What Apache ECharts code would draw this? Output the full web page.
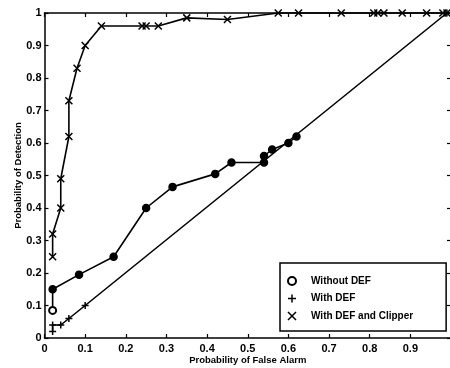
<!DOCTYPE html>
<html>
<head>
<meta charset="utf-8">
<script src="https://cdn.jsdelivr.net/npm/echarts@6/dist/echarts.min.js"></script>
<style>
  html, body { margin: 0; padding: 0; background: #fff; }
  #roc { width: 450px; height: 368px; }
</style>
</head>
<body>
<div id="roc"></div>
<script>
// ROC curves: probability of false alarm (x) vs probability of detection (y)
const noDefFA = [0.02, 0.02, 0.085, 0.17, 0.25, 0.315, 0.42, 0.46, 0.54, 0.54, 0.56, 0.60, 0.62]
const noDefPD = [0.085, 0.15, 0.195, 0.25, 0.40, 0.465, 0.505, 0.54, 0.54, 0.56, 0.58, 0.60, 0.62]

const defFA = [0.02, 0.02, 0.04, 0.06, 0.10, 0.99]
const defPD = [0.02, 0.04, 0.04, 0.06, 0.10, 1.0]

const clipFA = [0.02, 0.02, 0.04, 0.04, 0.06, 0.06, 0.08, 0.10, 0.14, 0.24, 0.25, 0.28, 0.35, 0.45,
  0.575, 0.625, 0.73, 0.81, 0.82, 0.835, 0.88, 0.94, 0.98, 0.99]
const clipPD = [0.25, 0.32, 0.40, 0.49, 0.62, 0.73, 0.83, 0.90, 0.96, 0.96, 0.96, 0.96, 0.985, 0.98,
  1, 1, 1, 1, 1, 1, 1, 1, 1, 1]

const seriesNames = ['Without DEF', 'With DEF', 'With DEF and Clipper']
const xTitle = 'Probability of False Alarm'
const yTitle = 'Probability of Detection'

const PLUS = 'path://M5,0L5,10M0,5L10,5'
const CROSS = 'path://M0,0L10,10M10,0L0,10'
const FONT = '"Liberation Sans", Arial, sans-serif'

function pairs(xs, ys) {
  return xs.map((x, i) => [x, ys[i]])
}

const tickFmt = v => (v >= 0.999 ? '1' : String(+v.toFixed(1)))

const markStyle = { color: '#000', borderColor: '#000', borderWidth: 1.5 }

const chart = echarts.init(document.getElementById('roc'), null, { renderer: 'canvas' })

// MATLAB-style box: ticks point inward on all four sides
const baseAxis = {
  type: 'value',
  min: 0,
  max: 1,
  interval: 0.1,
  axisLine: { show: true, onZero: false, lineStyle: { color: '#000', width: 1.5 } },
  axisTick: { show: true, inside: true, length: 4, lineStyle: { color: '#000', width: 1.2 } },
  splitLine: { show: false },
}

chart.setOption({
  backgroundColor: '#fff',
  animation: false,
  textStyle: { fontFamily: FONT },
  // right edge of the box sits just past the canvas, as in the cropped original
  grid: { left: 44.5, top: 13, width: 406.5, height: 325, outerBoundsMode: 'none' },
  legend: {
    orient: 'vertical',
    left: 280,
    top: 263,
    padding: [13, 33, 10, 7],
    itemGap: 7.5,
    itemWidth: 8,
    itemHeight: 8,
    borderColor: '#000',
    borderWidth: 1.5,
    backgroundColor: '#fff',
    textStyle: { color: '#000', fontSize: 10, fontWeight: 'bold', padding: [0, 0, 0, 10] },
    data: [
      { name: seriesNames[0], icon: 'circle', itemStyle: { color: '#fff', borderColor: '#000', borderWidth: 2 } },
      { name: seriesNames[1], icon: PLUS, itemStyle: markStyle },
      { name: seriesNames[2], icon: CROSS, itemStyle: markStyle },
    ],
  },
  xAxis: [
    {
      ...baseAxis,
      position: 'bottom',
      name: xTitle,
      nameLocation: 'middle',
      nameGap: 17,
      nameMoveOverlap: false,
      nameTextStyle: { color: '#000', fontSize: 9.5, fontWeight: 'bold' },
      axisLabel: {
        color: '#000', fontSize: 11, fontWeight: 'bold', margin: 5,
        formatter: v => (v >= 0.999 ? '' : tickFmt(v)),
      },
    },
    { ...baseAxis, position: 'top', axisLabel: { show: false } },
  ],
  yAxis: [
    {
      ...baseAxis,
      position: 'left',
      name: yTitle,
      nameLocation: 'middle',
      nameGap: 21,
      nameMoveOverlap: false,
      nameTextStyle: { color: '#000', fontSize: 9.5, fontWeight: 'bold' },
      axisLabel: { color: '#000', fontSize: 11, fontWeight: 'bold', margin: 3, formatter: tickFmt },
    },
    { ...baseAxis, position: 'right', axisLabel: { show: false } },
  ],
  series: [
    {
      name: seriesNames[0],
      type: 'line',
      clip: false,
      data: pairs(noDefFA, noDefPD).map((p, i) =>
        i === 0 ? { value: p, itemStyle: { color: '#fff', borderColor: '#000', borderWidth: 2 } } : p),
      symbol: 'circle',
      symbolSize: 7,
      itemStyle: markStyle,
      lineStyle: { color: '#000', width: 1.6 },
    },
    {
      name: seriesNames[1],
      type: 'line',
      clip: false,
      data: pairs(defFA, defPD),
      symbol: PLUS,
      symbolSize: 7,
      itemStyle: markStyle,
      lineStyle: { color: '#000', width: 1.6 },
    },
    {
      name: seriesNames[2],
      type: 'line',
      clip: false,
      data: pairs(clipFA, clipPD),
      symbol: CROSS,
      symbolSize: 7,
      itemStyle: markStyle,
      lineStyle: { color: '#000', width: 1.6 },
    },
  ],
})
</script>
</body>
</html>
